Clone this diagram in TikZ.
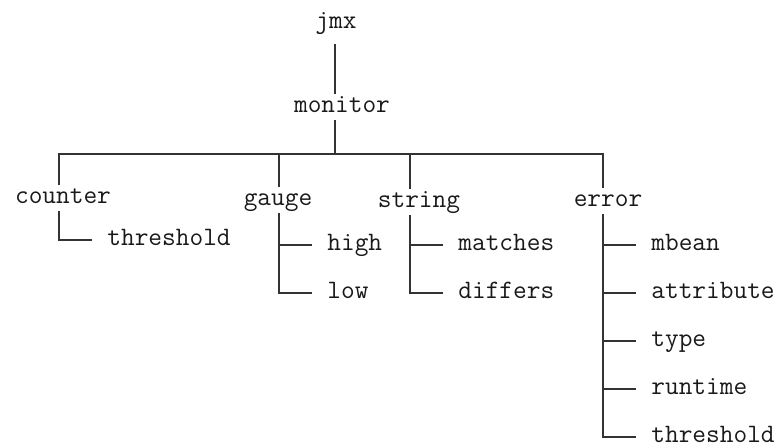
\documentclass[tikz,border=0pt]{standalone}
\usepackage{fontspec}
\usepackage{tikz}
\usetikzlibrary{positioning}

\begin{document}
\begin{tikzpicture}[
        x=0.5pt, y=-0.5pt,
        item/.style ={inner xsep=1pt, inner ysep=2pt, text height=7pt, text depth=2pt,
                      font=\ttfamily\fontsize{13.3}{16}\selectfont, text=black!90},
        group/.style={item, anchor=base},
        leaf/.style ={item, inner xsep=7.5pt, anchor=west},
        wire/.style ={line width=0.7pt, draw=black!80}
    ]
    \useasboundingbox (0,0) rectangle (784,446);

    % --- Raiz ---
    \node[group, inner ysep=6pt] (jmx)     at (336,28)  {jmx};
    \node[group]                 (monitor) at (342,112) {monitor};

    % --- Barra comun ---
    \coordinate (trunk)     at (335,154);
    \coordinate (b-counter) at (59,154);
    \coordinate (b-gauge)   at (279,154);
    \coordinate (b-string)  at (410,154);
    \coordinate (b-error)   at (603,154);

    % --- Grupos ---
    \node[group] (counter) at (63,203)  {counter};
    \node[group] (gauge)   at (278,205) {gauge};
    \node[group] (string)  at (419,207) {string};
    \node[group] (error)   at (608,206) {error};

    % --- Hojas ---
    \node[leaf] (cnt-threshold) at (92,240) {threshold};

    \node[leaf]                                  (high) at (312,245) {high};
    \node[leaf, below=24pt of high.west, anchor=west] (low)  {low};

    \node[leaf]                                     (matches) at (443,245) {matches};
    \node[leaf, below=24pt of matches.west, anchor=west] (differs) {differs};

    \node[leaf]                                          (mbean) at (636,245) {mbean};
    \node[leaf, below=24pt of mbean.west, anchor=west]     (attribute)     {attribute};
    \node[leaf, below=24pt of attribute.west, anchor=west] (type)          {type};
    \node[leaf, below=24pt of type.west, anchor=west]      (runtime)       {runtime};
    \node[leaf, below=24pt of runtime.west, anchor=west]   (err-threshold) {threshold};

    % --- Enlaces ---
    \draw[wire] (jmx.south -| trunk) -- (monitor.north -| trunk);
    \draw[wire] (monitor.south -| trunk) -- (trunk);

    % Barra y bajadas
    \draw[wire] (counter.north -| b-counter) -- (b-counter) -- (b-error) -- (error.north -| b-error);
    \draw[wire] (b-gauge)  -- (gauge.north -| b-gauge);
    \draw[wire] (b-string) -- (string.north -| b-string);

    % Ramas de cada grupo
    \draw[wire] (counter.south -| b-counter) |- (cnt-threshold.west);
    \foreach \leaf in {high, low}
        \draw[wire] (gauge.south -| b-gauge) |- (\leaf.west);
    \foreach \leaf in {matches, differs}
        \draw[wire] (string.south -| b-string) |- (\leaf.west);
    \foreach \leaf in {mbean, attribute, type, runtime, err-threshold}
        \draw[wire] (error.south -| b-error) |- (\leaf.west);
\end{tikzpicture}
\end{document}
